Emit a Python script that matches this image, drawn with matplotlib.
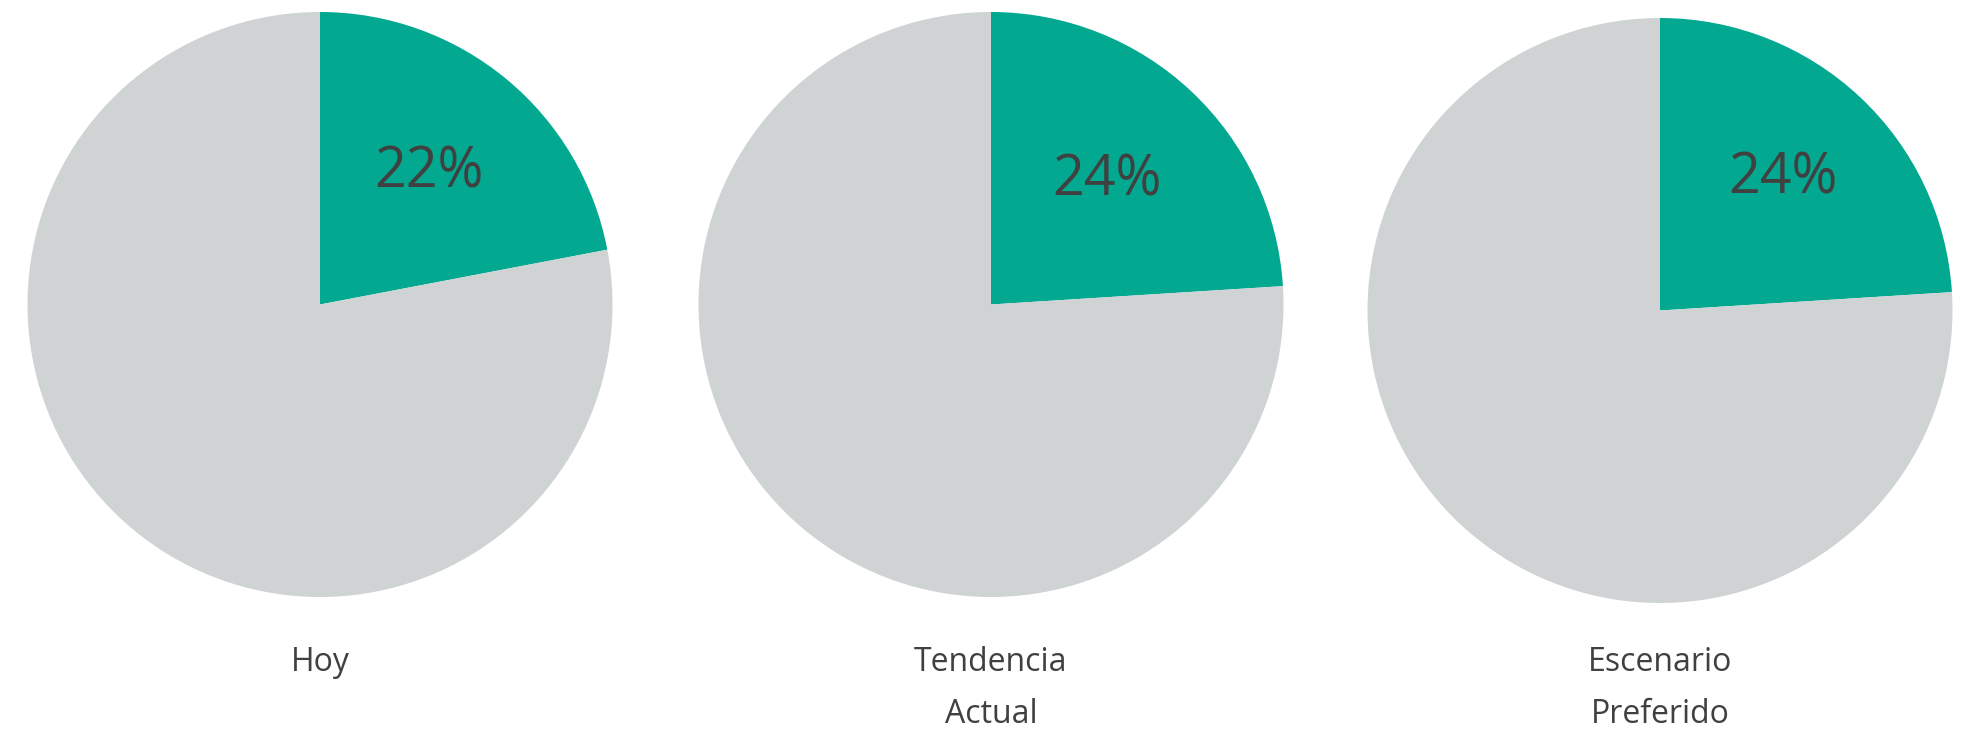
import matplotlib
matplotlib.use("Agg")
import matplotlib.pyplot as plt

# data
categories = ["Hoy", "Tendencia\nActual", "Escenario\nPreferido"]
shares = [22, 24, 24]          # % in the green wedge

GREEN = "#03A890"
GREY = "#CFD3D4"
INK = "#404040"

W, H = 1987, 742
R = 292.5
centers = [(320, 304.5), (991, 304.5), (1660, 310.5)]   # pixel layout of each pie
pct_dist = [0.585, 0.58, 0.615]

plt.rcParams["font.family"] = ["Open Sans", "DejaVu Sans"]

fig = plt.figure(figsize=(W / 100, H / 100), dpi=100)

for i, (cat, share) in enumerate(zip(categories, shares)):
    cx, cy = centers[i]
    ax = fig.add_axes([(cx - R) / W, 1 - (cy + R) / H, 2 * R / W, 2 * R / H])
    _, texts, autotexts = ax.pie(
        [share, 100 - share], colors=[GREEN, GREY], startangle=90, counterclock=False,
        radius=1, autopct=lambda p: f"{p:.0f}%" if p < 50 else "",
        pctdistance=pct_dist[i], wedgeprops={"linewidth": 0},
        textprops={"fontsize": 40, "color": INK})
    ax.set_xlim(-1, 1)
    ax.set_ylim(-1, 1)
    fig.text(cx / W, 1 - 646 / H, cat, ha="center", va="top", fontsize=23,
             color=INK, linespacing=1.75)

fig.savefig("out.png", dpi=100, facecolor="white")
